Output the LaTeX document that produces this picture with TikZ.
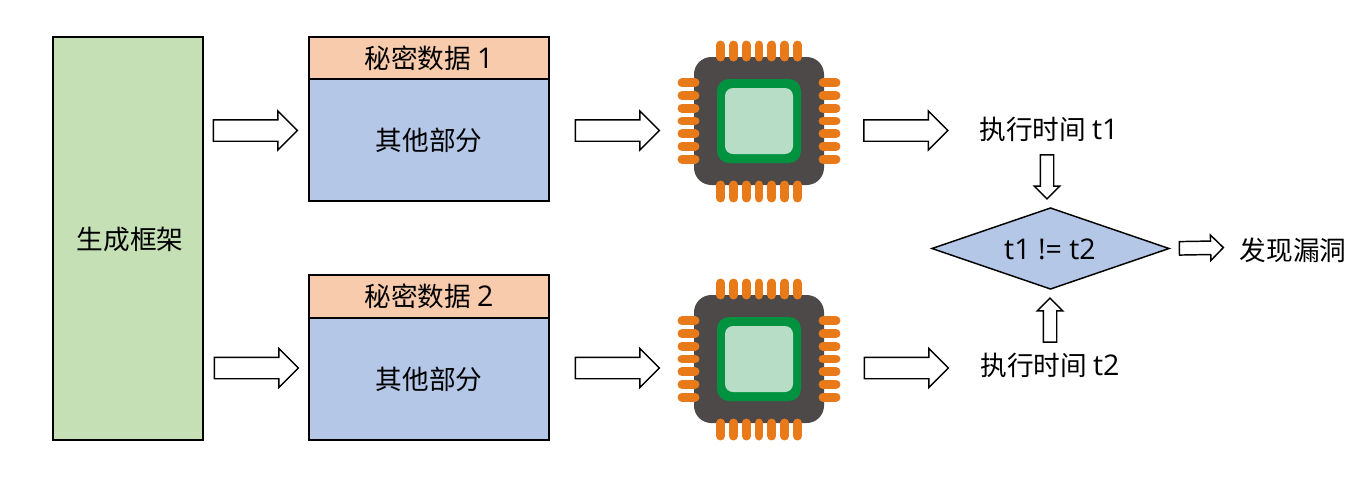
\documentclass[tikz,border=0pt]{standalone}
\usepackage{fontspec}
\setmainfont{Noto Sans CJK SC}
\newfontfamily\latinfont[Scale=1.07]{Open Sans}
\usetikzlibrary{shapes.geometric,shapes.arrows}
\definecolor{framegreen}{HTML}{C5E0B4}
\definecolor{secretpeach}{HTML}{F8CBAD}
\definecolor{partblue}{HTML}{B4C7E7}
\definecolor{chipgray}{HTML}{4D4948}
\definecolor{chipgreen}{HTML}{00923F}
\definecolor{chiplight}{HTML}{B7DDC7}
\definecolor{chippin}{HTML}{E97A1A}
\tikzset{
  x=0.75pt, y=-0.75pt,
  every node/.style={font=\fontsize{20}{24}\selectfont, inner sep=0pt, outer sep=0pt},
  block/.style={draw, line width=1.3pt, minimum width=180pt, anchor=north west},
  bigarrow/.style={single arrow, draw, fill=white, line width=1.1pt, inner ysep=7.5pt, minimum height=63pt, single arrow head extend=6.5pt},
  smallarrow/.style={single arrow, draw, fill=white, line width=1.1pt, inner ysep=4.5pt, minimum height=33pt, single arrow head extend=4.5pt},
  pin/.style={line width=6.7pt, line cap=round, chippin},
  chip/.pic={
    % Corps
    \fill[chipgray, rounded corners=13pt] (-65,-64) rectangle (65,64);
    \fill[chipgreen, rounded corners=9pt] (-42,-42) rectangle (42,42);
    \fill[chiplight, rounded corners=6pt] (-34,-33) rectangle (34,33);
    % Broches
    \foreach \k in {-3,...,3} {
      \draw[pin] (\k*12.8,-76) -- (\k*12.8,-64);
      \draw[pin] (\k*12.8,64) -- (\k*12.8,77);
      \draw[pin] (-77,\k*12.7) -- (-64,\k*12.7);
      \draw[pin] (64,\k*12.7) -- (77,\k*12.7);
    }
  }
}
\begin{document}
\begin{tikzpicture}
\useasboundingbox (0,0) rectangle (1371,480);
% Cadre
\node[draw, line width=1.3pt, fill=framegreen, minimum width=112.5pt, minimum height=302.25pt] (frame) at (128,238.5) {};
\node (frametext) at (130,239) {生成框架};
% Premier cas
\node[block, fill=secretpeach, minimum height=31.5pt] (secretA) at (309,37) {秘密数据 {\latinfont 1}};
\node[block, fill=partblue, minimum height=91.5pt] (restA) at (309,79) {其他部分};
% Second cas
\node[block, fill=secretpeach, minimum height=32.25pt] (secretB) at (309,275) {秘密数据 {\latinfont 2}};
\node[block, fill=partblue, minimum height=91.5pt] (restB) at (309,318) {其他部分};
% Puces
\pic (chipA) at (759,121) {chip};
\pic (chipB) at (759,359) {chip};
% Fleches
\node[bigarrow] (arrowA) at (250,130.5) {};
\node[bigarrow] (arrowB) at (612,130.5) {};
\node[bigarrow] (arrowC) at (900.5,130.5) {};
\node[bigarrow] (arrowD) at (251,368) {};
\node[bigarrow] (arrowE) at (612,368) {};
\node[bigarrow] (arrowF) at (901,368) {};
% Resultats
\node (timeA) at (1049,129) {执行时间 {\latinfont t1}};
\node (timeB) at (1050,365) {执行时间 {\latinfont t2}};
\node[diamond, draw, line width=1.1pt, fill=partblue, minimum width=177.75pt, minimum height=60.75pt, aspect=2.93] (test) at (1050.5,248.5) {};
\node[font=\fontsize{20}{24}\latinfont] (testtext) at (1050,249) {t1 != t2};
\node[smallarrow, rotate=-90] (arrowdown) at (1047,173.5) {};
\node[smallarrow, rotate=90] (arrowup) at (1050,323.5) {};
\node[smallarrow, rotate=1] (arrowout) at (1198,248) {};
\node (leak) at (1293,250) {发现漏洞};
\end{tikzpicture}
\end{document}
